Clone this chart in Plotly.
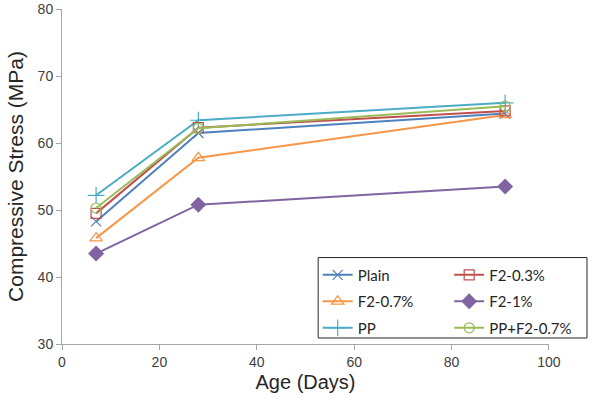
import plotly.graph_objects as go

ages = [7, 28, 91]
plain = [48.3, 61.5, 64.4]
f2_03 = [49.5, 62.3, 64.8]
f2_07 = [45.8, 57.8, 64.2]
f2_1 = [43.5, 50.8, 53.5]
pp = [52.2, 63.4, 66.0]
pp_f2_07 = [50.3, 62.2, 65.5]

series = [
    ("Plain", plain, "#4F81BD", "x-thin-open", 10, "legend"),
    ("F2-0.7%", f2_07, "#F79646", "triangle-up-open", 11, "legend"),
    ("PP", pp, "#4BACC6", "cross-thin-open", 12, "legend"),
    ("F2-0.3%", f2_03, "#C0504D", "square-open", 10, "legend2"),
    ("F2-1%", f2_1, "#8064A2", "diamond", 11, "legend2"),
    ("PP+F2-0.7%", pp_f2_07, "#9BBB59", "circle-open", 10, "legend2"),
]

fig = go.Figure()
for name, ys, color, sym, sz, lg in series:
    fig.add_trace(go.Scatter(
        x=ages, y=ys, name=name, mode="lines+markers", legend=lg, legendgroup=name,
        line=dict(color=color, width=2),
        marker=dict(symbol=sym, size=sz, color=color, line=dict(color=color, width=1.2)),
    ))

axis_common = dict(
    showgrid=False, zeroline=False, showline=True, linecolor="#A6A6A6", linewidth=1,
    ticks="outside", tickcolor="#A6A6A6", ticklen=5,
    tickfont=dict(family="Liberation Sans", size=14, color="#404040"),
    ticklabeloverflow="allow", automargin=False,
)
fig.update_xaxes(range=[0, 100.01], tickvals=[0, 20, 40, 60, 80, 100],
                 title=dict(text="Age (Days)", font=dict(family="Liberation Sans", size=20, color="#262626"), standoff=6),
                 **axis_common)
fig.update_yaxes(range=[30, 80.01], tickvals=[30, 40, 50, 60, 70, 80],
                 title=dict(text="Compressive Stress (MPa)", font=dict(family="Liberation Sans", size=21, color="#262626"), standoff=8),
                 **axis_common)

leg_common = dict(
    orientation="v", yanchor="top", xanchor="left",
    borderwidth=0, bgcolor="rgba(255,255,255,0)",
    font=dict(family="Lato", size=15, color="#262626"),
    itemwidth=30, tracegroupgap=4,
)

fig.update_layout(
    width=600, height=401,
    margin=dict(l=62, r=51, t=9, b=57),
    plot_bgcolor="white", paper_bgcolor="white",
    legend=dict(x=0.525, y=0.255, **leg_common),
    legend2=dict(x=0.795, y=0.255, **leg_common),
    shapes=[dict(type="rect", xref="paper", yref="paper",
                 x0=0.526, x1=1.078, y0=0.018, y1=0.258,
                 line=dict(color="#262626", width=1), fillcolor="white", layer="below")],
)

fig.write_html("out.html")
